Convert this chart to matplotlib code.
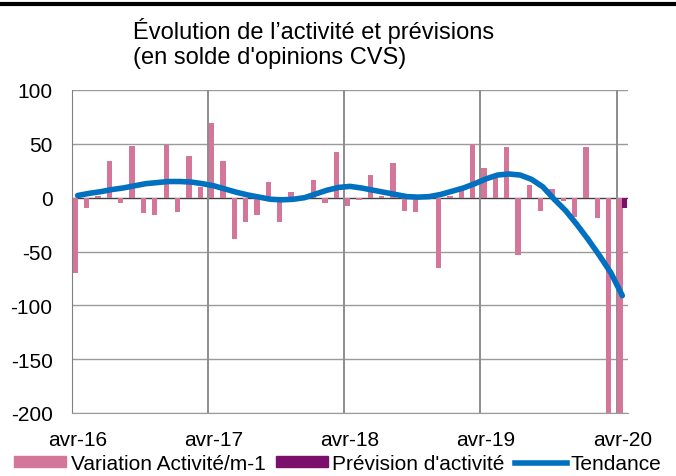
import matplotlib
matplotlib.use('Agg')
import matplotlib.pyplot as plt
from matplotlib.patches import Patch
from matplotlib.lines import Line2D
import numpy as np

plt.rcParams['font.family'] = ['Liberation Sans', 'DejaVu Sans']

# monthly data, avr-16 .. avr-20 (49 months)
variation = [-70, -10, 2, 34, -5, 48, -14, -16, 49, -13, 39, 10,
             69, 34, -38, -23, -16, 15, -23, 5, -2, 16, -5, 42,
             -8, -2, 21, 2, 32, -12, -13, -1, -65, 2, 9, 50,
             28, 19, 47, -53, 12, -12, 8, -3, -18, 47, -19, -210,
             -215]
tendance = [2, 4, 5.5, 7.5, 9, 11, 13, 14, 15, 15, 14.5, 13,
            11, 8, 5, 2.5, 0.5, -1.5, -2, -1.5, 0, 3.5, 7, 9.5,
            10.5, 9, 7, 5, 3, 1, 0.5, 1, 3, 6, 9, 13,
            17.5, 21, 22, 21, 17, 10, -1.5, -12, -25, -39, -54, -70,
            -91]
prevision_month = [48]
prevision = [-10]

tick_months = [0, 12, 24, 36, 48]
tick_labels = ['avr-16', 'avr-17', 'avr-18', 'avr-19', 'avr-20']
y_ticks = [-200, -150, -100, -50, 0, 50, 100]

pink = '#d4769a'
purple = '#7d0f6c'
blue = '#0070c0'

fig = plt.figure(figsize=(6.76, 4.77), dpi=100)
ax = fig.add_axes([72 / 676, 63 / 477, 556 / 676, 323 / 477])

months = np.arange(len(variation))
ax.bar(months + 0.3, variation, width=0.47, color=pink, zorder=2)
ax.bar(np.array(prevision_month) + 0.72, prevision, width=0.47, color=purple, zorder=2)
ax.plot(months + 0.5, tendance, color=blue, lw=4, solid_capstyle='round', zorder=3)

ax.set_xlim(0, 49)
ax.set_ylim(-200, 100)

for y in y_ticks:
    if y == 0:
        ax.axhline(y, color='#404040', lw=1, zorder=1)
    else:
        ax.axhline(y, color='#9a9a9a', lw=1, zorder=1)
for m in tick_months[1:]:
    ax.axvline(m, color='#8c8c8c', lw=1.4, zorder=1)

for s in ['top', 'right']:
    ax.spines[s].set_visible(False)
ax.spines['left'].set_color('#808080')
ax.spines['bottom'].set_color('#9a9a9a')

ax.set_yticks(y_ticks)
ax.set_yticklabels([str(v) for v in y_ticks])
ax.set_xticks(np.array(tick_months) + 0.5)
ax.set_xticklabels(tick_labels)
ax.tick_params(axis='y', length=0, pad=14, labelsize=15)
ax.tick_params(axis='x', length=0, pad=12, labelsize=15)

fig.text(133 / 676, 1 - 18 / 477,
         'Évolution de l’activité et prévisions\n(en solde d\'opinions CVS)',
         fontsize=17, va='top', ha='left', linespacing=1.15)

fig.add_artist(Line2D([0, 1], [1 - 5 / 477, 1 - 5 / 477], color='black', lw=3,
                      transform=fig.transFigure))

handles = [Patch(color=pink), Patch(color=purple), Line2D([], [], color=blue, lw=4)]
fig.legend(handles, ['Variation Activité/m-1', "Prévision d'activité", 'Tendance'],
           loc='lower center', bbox_to_anchor=(0.5, -0.02), ncol=3, frameon=False,
           fontsize=15, handlelength=2.5, handleheight=0.45, handletextpad=0.2,
           columnspacing=0.5, borderaxespad=0.2)

fig.savefig('out.png', dpi=100)
